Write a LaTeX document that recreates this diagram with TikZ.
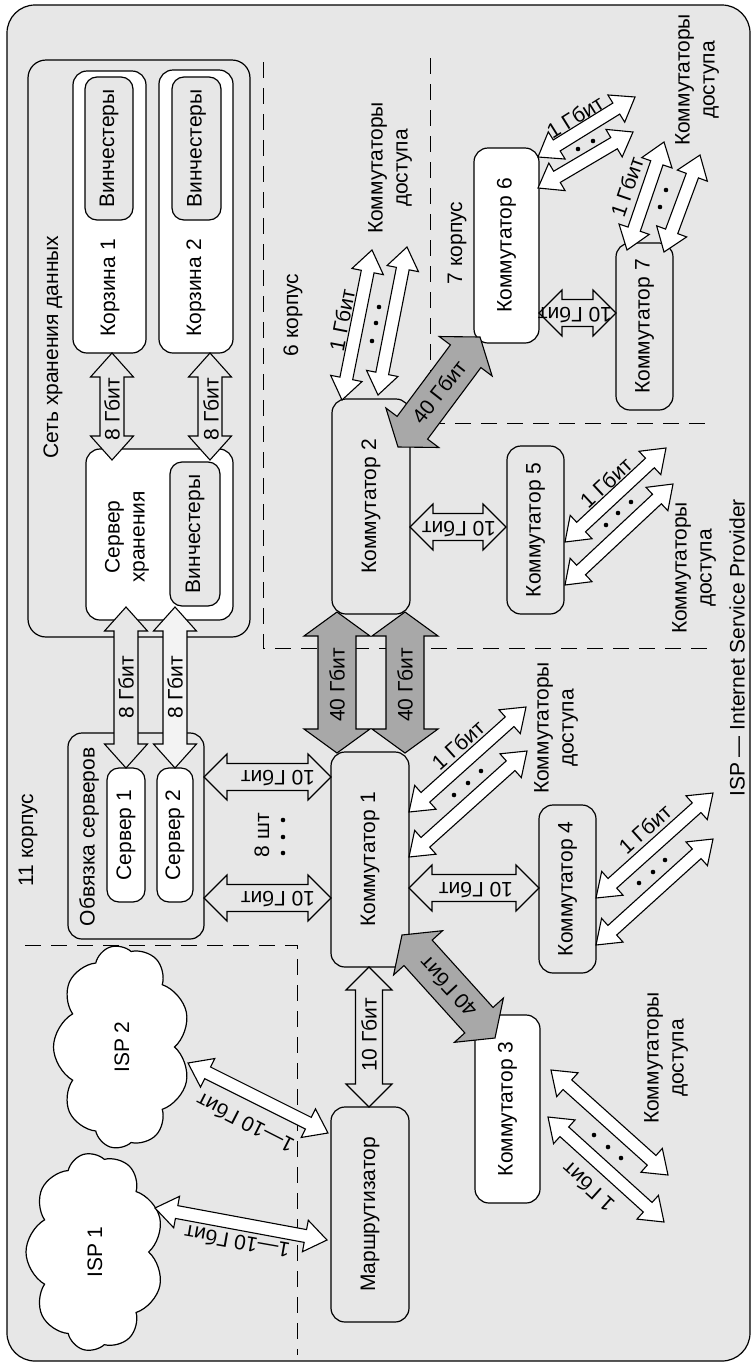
\documentclass[tikz,border=0pt]{standalone}
\usepackage{fontspec}
\setmainfont{Liberation Sans}
\usetikzlibrary{calc,shapes.symbols}
\definecolor{bg}{RGB}{231,231,231}
\definecolor{dark}{RGB}{168,168,168}
\definecolor{light}{RGB}{243,243,243}
% double-headed block arrow: #1 style, #2 tip A, #3 tip B, #4 shaft half width, #5 head half width, #6 head length
\newcommand{\blkarrow}[6]{%
  \coordinate (baP) at ($(#2)!#6!(#3)$);
  \coordinate (baQ) at ($(#3)!#6!(#2)$);
  \draw[#1] (#2) -- ($(baP)!#5!90:(#3)$) -- ($(baP)!#4!90:(#3)$) -- ($(baQ)!#4!-90:(#2)$) -- ($(baQ)!#5!-90:(#2)$) -- (#3) -- ($(baQ)!#5!90:(#2)$) -- ($(baQ)!#4!90:(#2)$) -- ($(baP)!#4!-90:(#3)$) -- ($(baP)!#5!-90:(#3)$) -- cycle;}
\newcommand{\tengig}[2]{\blkarrow{arrline,fill=bg}{#1}{#2}{13.5pt}{23pt}{23pt}}
\newcommand{\fortygig}[2]{\blkarrow{arrline,fill=dark}{#1}{#2}{19pt}{33pt}{24pt}}
\newcommand{\onegig}[2]{\blkarrow{arrline,fill=white}{#1}{#2}{6.5pt}{16pt}{22pt}}
\newcommand{\eightgig}[3]{\blkarrow{arrline,fill=#3}{#1}{#2}{12pt}{21.5pt}{24pt}}
\begin{document}
\begin{tikzpicture}[x=1pt,y=-1pt,font=\fontsize{21}{25}\selectfont,
  box/.style={draw,line width=1.2pt,rounded corners=14pt,rotate=90,inner sep=0pt,outer sep=0pt,align=center},
  arrline/.style={draw,line width=1.1pt,line join=miter},
  lbl/.style={inner sep=0pt,align=center},
  dashln/.style={line width=1pt,dash pattern=on 16pt off 10pt},
  isp/.style={cloud,draw,line width=1.2pt,fill=white,cloud puffs=9,cloud puff arc=120,cloud ignores aspect,rotate=90,inner sep=0pt}]
\useasboundingbox (0,0) rectangle (752,1363);
\draw[line width=1.2pt,fill=bg,rounded corners=28pt] (7,5) rectangle (750,1361);
% dashed borders
\draw[dashln] (263,62) -- (263,648) -- (709,648);
\draw[dashln] (430,58) -- (430,423) -- (705,423);
\draw[dashln] (25,945) -- (297,945) -- (297,1355);
% boxes
\node[box,fill=bg,rounded corners=18pt,minimum width=577pt,minimum height=222pt] (san) at (139,348.5) {};
\node[box,fill=white,minimum width=282pt,minimum height=73pt] (korz1) at (109.5,212) {};
\node[box,fill=bg,rounded corners=12pt,minimum width=143pt,minimum height=48pt] (vin1) at (109,148.5) {Винчестеры};
\node[box,fill=white,minimum width=283pt,minimum height=74pt] (korz2) at (196,211.5) {};
\node[box,fill=bg,rounded corners=12pt,minimum width=143pt,minimum height=49pt] (vin2) at (196.5,148.5) {Винчестеры};
\node[box,fill=white,minimum width=171pt,minimum height=147pt] (srvh) at (159.5,534.5) {};
\node[box,fill=bg,rounded corners=12pt,minimum width=144pt,minimum height=50pt] (vin3) at (195,534) {Винчестеры};
\node[box,fill=bg,minimum width=206pt,minimum height=136pt] (obv) at (136,836) {};
\node[box,fill=white,rounded corners=12pt,minimum width=134pt,minimum height=38pt] (srv1) at (126,835) {Сервер 1};
\node[box,fill=white,rounded corners=12pt,minimum width=134pt,minimum height=36pt] (srv2) at (175,835) {Сервер 2};
\node[box,fill=bg,minimum width=215pt,minimum height=78pt] (k1) at (370,859.5) {Коммутатор 1};
\node[box,fill=bg,minimum width=215pt,minimum height=78pt] (k2) at (371,506.5) {Коммутатор 2};
\node[box,fill=white,minimum width=188pt,minimum height=65pt] (k3) at (507.5,1109) {Коммутатор 3};
\node[box,fill=bg,minimum width=168pt,minimum height=57pt] (k4) at (567.5,889) {Коммутатор 4};
\node[box,fill=bg,minimum width=168pt,minimum height=57pt] (k5) at (535.5,530) {Коммутатор 5};
\node[box,fill=white,minimum width=195pt,minimum height=65pt] (k6) at (506.5,245.5) {Коммутатор 6};
\node[box,fill=bg,minimum width=167pt,minimum height=57pt] (k7) at (644.5,326.5) {Коммутатор 7};
\node[box,fill=bg,minimum width=215pt,minimum height=78pt] (rtr) at (370,1214.5) {Маршрутизатор};
\node[isp,minimum width=198pt,minimum height=138pt] (isp1) at (95,1252) {ISP 1};
\node[isp,minimum width=203pt,minimum height=137pt] (isp2) at (122,1047) {ISP 2};
% arrow end points
\coordinate (s1a) at (112,353); \coordinate (s1b) at (112,460);
\coordinate (s2a) at (210,353); \coordinate (s2b) at (210,460);
\coordinate (s3a) at (126,607); \coordinate (s3b) at (126,768);
\coordinate (s4a) at (175,607); \coordinate (s4b) at (175,768);
\coordinate (t1a) at (204,777); \coordinate (t1b) at (331,777);
\coordinate (t2a) at (204,898); \coordinate (t2b) at (331,898);
\coordinate (t3a) at (410,527); \coordinate (t3b) at (506,527);
\coordinate (t4a) at (409,888); \coordinate (t4b) at (539,888);
\coordinate (t5a) at (539,313); \coordinate (t5b) at (616,313);
\coordinate (t6a) at (369,967); \coordinate (t6b) at (369,1107);
\coordinate (f1a) at (337,612); \coordinate (f1b) at (337,753);
\coordinate (f2a) at (405,612); \coordinate (f2b) at (405,753);
\coordinate (f3a) at (398,447); \coordinate (f3b) at (480,337);
\coordinate (f4a) at (402,935); \coordinate (f4b) at (495,1038);
\coordinate (g1a) at (342,400); \coordinate (g1b) at (372,250);
\coordinate (g2a) at (378,395); \coordinate (g2b) at (407,247);
\coordinate (g3a) at (409,812); \coordinate (g3b) at (526,707);
\coordinate (g4a) at (409,857); \coordinate (g4b) at (527,751);
\coordinate (g5a) at (596,898); \coordinate (g5b) at (713,793);
\coordinate (g6a) at (596,945); \coordinate (g6b) at (713,839);
\coordinate (g7a) at (565,542); \coordinate (g7b) at (666,448);
\coordinate (g8a) at (565,585); \coordinate (g8b) at (673,484);
\coordinate (g9a) at (551,1070); \coordinate (g9b) at (668,1175);
\coordinate (g10a) at (548,1117); \coordinate (g10b) at (664,1222);
\coordinate (g11a) at (538,157); \coordinate (g11b) at (635,97);
\coordinate (g12a) at (538,188); \coordinate (g12b) at (633,132);
\coordinate (g13a) at (627,250); \coordinate (g13b) at (664,142);
\coordinate (g14a) at (664,252); \coordinate (g14b) at (700,155);
\coordinate (i1a) at (155,1208); \coordinate (i1b) at (327,1240);
\coordinate (i2a) at (188,1063); \coordinate (i2b) at (328,1133);
% arrows
\eightgig{s1a}{s1b}{bg} \eightgig{s2a}{s2b}{bg}
\eightgig{s3a}{s3b}{bg} \eightgig{s4a}{s4b}{light}
\tengig{t1a}{t1b} \tengig{t2a}{t2b} \tengig{t3a}{t3b}
\tengig{t4a}{t4b} \tengig{t5a}{t5b} \tengig{t6a}{t6b}
\fortygig{f1a}{f1b} \fortygig{f2a}{f2b} \fortygig{f3a}{f3b} \fortygig{f4a}{f4b}
\onegig{g1a}{g1b} \onegig{g2a}{g2b} \onegig{g3a}{g3b} \onegig{g4a}{g4b}
\onegig{g5a}{g5b} \onegig{g6a}{g6b} \onegig{g7a}{g7b} \onegig{g8a}{g8b}
\onegig{g9a}{g9b} \onegig{g10a}{g10b} \onegig{g11a}{g11b} \onegig{g12a}{g12b}
\onegig{g13a}{g13b} \onegig{g14a}{g14b}
\onegig{i1a}{i1b} \onegig{i2a}{i2b}
% arrow labels
\node[lbl,rotate=90] at (112,409) {8 Гбит};
\node[lbl,rotate=90] at (211,409) {8 Гбит};
\node[lbl,rotate=90] at (126,687) {8 Гбит};
\node[lbl,rotate=90] at (175,687) {8 Гбит};
\node[lbl,rotate=180] at (278,778) {10 Гбит};
\node[lbl,rotate=180] at (278,899) {10 Гбит};
\node[lbl,rotate=180] at (459,529) {10 Гбит};
\node[lbl,rotate=180] at (476,890) {10 Гбит};
\node[lbl,rotate=180] at (575,315) {10 Гбит};
\node[lbl,rotate=90] at (369,1035) {10 Гбит};
\node[lbl,rotate=90] at (337,685) {40 Гбит};
\node[lbl,rotate=90] at (405,685) {40 Гбит};
\node[lbl,rotate=52] at (439,392) {40 Гбит};
\node[lbl,rotate=133] at (448,987) {40 Гбит};
\node[lbl,rotate=79] at (342,320) {1 Гбит};
\node[lbl,rotate=42] at (458,745) {1 Гбит};
\node[lbl,rotate=42] at (645,829) {1 Гбит};
\node[lbl,rotate=43] at (606,483) {1 Гбит};
\node[lbl,rotate=138] at (588,1187) {1 Гбит};
\node[lbl,rotate=32] at (575,117) {1 Гбит};
\node[lbl,rotate=71] at (627,187) {1 Гбит};
\node[lbl,rotate=170] at (237,1242) {1—10 Гбит};
\node[lbl,rotate=153] at (245,1123) {1—10 Гбит};
% dots
\foreach \p in {(379,307),(376,323),(372,341),(454,795),(468,783),(481,771),(639,883),(653,872),(665,860),(606,525),(618,513),(631,502),(594,1135),(608,1147),(621,1158),(578,149),(593,141),(666,190),(660,207),(283,820),(283,837),(283,853)}
  \fill \p circle (2.3pt);
% free labels
\node[lbl,rotate=90] (sanl) at (53,347) {Сеть хранения данных};
\node[lbl,rotate=90] (korz1l) at (110,288) {Корзина 1};
\node[lbl,rotate=90] (korz2l) at (196,288) {Корзина 2};
\node[lbl,rotate=90] (srvhl) at (127,537) {Сервер\\хранения};
\node[lbl,rotate=90] (obvl) at (89,837) {Обвязка серверов};
\node[lbl,rotate=90] (cnt) at (262,835) {8 шт};
\node[lbl,rotate=90] (c11) at (28,840) {11 корпус};
\node[lbl,rotate=90] (c6) at (293,315) {6 корпус};
\node[lbl,rotate=90] (c7) at (457,243) {7 корпус};
\node[lbl,rotate=90] (acc2) at (390,168) {Коммутаторы\\доступа};
\node[lbl,rotate=90] (acc67) at (697,80) {Коммутаторы\\доступа};
\node[lbl,rotate=90] (acc5) at (694,568) {Коммутаторы\\доступа};
\node[lbl,rotate=90] (acc1) at (556,728) {Коммутаторы\\доступа};
\node[lbl,rotate=90] (acc3) at (666,1058) {Коммутаторы\\доступа};
\node[lbl,rotate=90] (ispl) at (737,648) {ISP — Internet Service Provider};
\end{tikzpicture}
\end{document}
